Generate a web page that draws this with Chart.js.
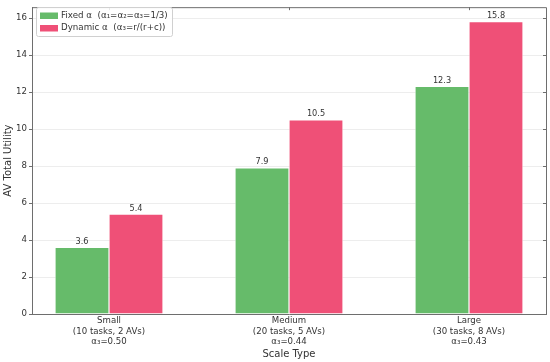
<!DOCTYPE html>
<html>
<head>
<meta charset="utf-8">
<script src="https://cdn.jsdelivr.net/npm/chart.js@4"></script>
<style>
  html, body { margin: 0; padding: 0; background: #fff; }
  #wrap { width: 550px; height: 362px; }
</style>
</head>
<body>
<div id="wrap"><canvas id="chart"></canvas></div>
<script>
// Chart data
const scaleLabels = [
    ['Small', '(10 tasks, 2 AVs)', 'α₃=0.50'],
    ['Medium', '(20 tasks, 5 AVs)', 'α₃=0.44'],
    ['Large', '(30 tasks, 8 AVs)', 'α₃=0.43']
];
const scalePositions = [0, 1, 2];
const fixedValues = [3.6, 7.9, 12.3];
const dynamicValues = [5.4, 10.5, 15.8];
const seriesNames = ['Fixed α  (α₁=α₂=α₃=1/3)', 'Dynamic α  (α₃=r/(r+c))'];
const yTicks = [0, 2, 4, 6, 8, 10, 12, 14, 16];

const GREEN = '#66bb6a';
const RED = '#ef5077';
const AXIS = '#6e6e6e';
const TEXT = '#333333';

Chart.defaults.font.family = 'DejaVu Sans';
Chart.defaults.color = TEXT;

// value labels above bars
const valueLabels = {
    id: 'valueLabels',
    afterDatasetsDraw(chart) {
        const ctx = chart.ctx;
        ctx.save();
        ctx.font = '8.2px "DejaVu Sans"';
        ctx.fillStyle = TEXT;
        ctx.textAlign = 'center';
        ctx.textBaseline = 'bottom';
        chart.data.datasets.forEach((ds, i) => {
            chart.getDatasetMeta(i).data.forEach((bar, j) => {
                ctx.fillText(ds.data[j].y.toFixed(1), bar.x, bar.y - 1.5);
            });
        });
        ctx.restore();
    }
};

// top/right spines with inward ticks, and the legend box
const frameAndLegend = {
    id: 'frameAndLegend',
    afterDraw(chart) {
        const ctx = chart.ctx;
        const a = chart.chartArea;
        const xs = chart.scales.x, ys = chart.scales.y;
        ctx.save();
        ctx.strokeStyle = AXIS;
        ctx.lineWidth = 1;
        ctx.beginPath();
        ctx.moveTo(a.left, a.top + 0.5);
        ctx.lineTo(a.right + 0.5, a.top + 0.5);
        ctx.lineTo(a.right + 0.5, a.bottom);
        scalePositions.forEach(v => {
            const px = Math.round(xs.getPixelForValue(v)) + 0.5;
            ctx.moveTo(px, a.top);
            ctx.lineTo(px, a.top + 3);
        });
        yTicks.forEach(v => {
            const py = Math.round(ys.getPixelForValue(v)) + 0.5;
            ctx.moveTo(a.right, py);
            ctx.lineTo(a.right - 3, py);
        });
        ctx.stroke();

        // legend
        const lx = 36, ly = 7, lw = 136, lh = 29;
        ctx.beginPath();
        ctx.roundRect(lx + 0.5, ly + 0.5, lw, lh, 2);
        ctx.fillStyle = 'rgba(255,255,255,0.85)';
        ctx.fill();
        ctx.strokeStyle = '#d0d0d0';
        ctx.stroke();
        ctx.font = '8.7px "DejaVu Sans"';
        ctx.textBaseline = 'middle';
        ctx.textAlign = 'left';
        chart.data.datasets.forEach((ds, i) => {
            const cy = ly + 8.5 + i * 12.5;
            ctx.fillStyle = ds.backgroundColor;
            ctx.fillRect(lx + 4, cy - 3, 18, 6.5);
            ctx.fillStyle = TEXT;
            ctx.fillText(ds.label, lx + 25, cy);
        });
        ctx.restore();
    }
};

const toPoints = vals => vals.map((v, i) => ({ x: scalePositions[i], y: v }));

new Chart(document.getElementById('chart'), {
    type: 'bar',
    data: {
        datasets: [
            { label: seriesNames[0], data: toPoints(fixedValues), backgroundColor: GREEN,
              borderColor: 'rgba(255,255,255,0.7)', borderWidth: 0.6,
              categoryPercentage: 0.6, barPercentage: 1.0 },
            { label: seriesNames[1], data: toPoints(dynamicValues), backgroundColor: RED,
              borderColor: 'rgba(255,255,255,0.7)', borderWidth: 0.6,
              categoryPercentage: 0.6, barPercentage: 1.0 }
        ]
    },
    options: {
        responsive: true,
        maintainAspectRatio: false,
        animation: false,
        layout: { padding: { top: 4, right: 4, left: 0, bottom: 0 } },
        plugins: { legend: { display: false }, tooltip: { enabled: false } },
        scales: {
            x: {
                type: 'linear',
                offset: false,
                min: -0.4278,
                max: 2.4278,
                grid: { display: false, drawTicks: false },
                border: { color: AXIS, width: 1 },
                afterBuildTicks: axis => { axis.ticks = scalePositions.map(v => ({ value: v })); },
                afterFit: axis => { axis.height = 48; },
                ticks: {
                    autoSkip: false,
                    maxRotation: 0,
                    padding: 2,
                    color: TEXT,
                    font: { size: 8.6, lineHeight: 1.2 },
                    callback: (v) => scaleLabels[scalePositions.indexOf(v)]
                },
                title: { display: true, text: 'Scale Type', color: TEXT,
                         font: { size: 10 }, padding: { top: 0, bottom: 2 } }
            },
            y: {
                min: 0,
                max: 16.59,
                afterBuildTicks: axis => { axis.ticks = yTicks.map(v => ({ value: v })); },
                afterFit: axis => { axis.width = 32; },
                grid: { color: 'rgba(0,0,0,0.07)', tickColor: AXIS, tickLength: 3 },
                border: { color: AXIS, width: 1 },
                ticks: { padding: 2, color: TEXT, font: { size: 8.6 } },
                title: { display: true, text: 'AV Total Utility', color: TEXT,
                         font: { size: 10 }, padding: { top: 2, bottom: 0 } }
            }
        }
    },
    plugins: [valueLabels, frameAndLegend]
});
</script>
</body>
</html>
